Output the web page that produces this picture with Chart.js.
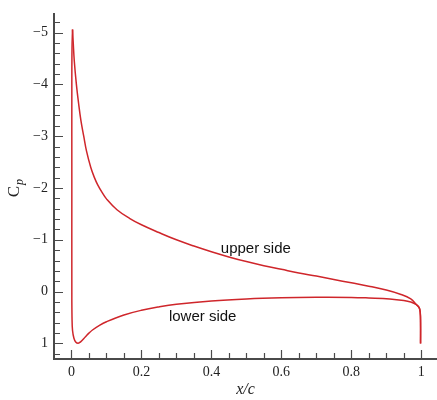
<!DOCTYPE html>
<html>
<head>
<meta charset="utf-8">
<script src="https://cdn.jsdelivr.net/npm/chart.js@4/dist/chart.umd.min.js"></script>
<style>
  html, body { margin: 0; padding: 0; background: #fff; }
</style>
</head>
<body>
<canvas id="cpChart" width="437" height="400"></canvas>
<script>
// pressure coefficient
var upperX  = [0.003, 0.005, 0.008, 0.014, 0.02, 0.027, 0.035, 0.043, 0.055, 0.065, 0.075, 0.087, 0.1, 0.13, 0.167, 0.2, 0.25, 0.3, 0.35, 0.4, 0.45, 0.5, 0.55, 0.6, 0.65, 0.7, 0.75, 0.8, 0.85, 0.9, 0.94, 0.97, 0.986, 0.994, 0.997, 0.998, 0.998];
var upperCp = [-5.06, -4.8, -4.45, -4.0, -3.65, -3.3, -3.0, -2.71, -2.4, -2.21, -2.06, -1.92, -1.79, -1.58, -1.41, -1.29, -1.14, -1.0, -0.88, -0.77, -0.67, -0.58, -0.5, -0.43, -0.36, -0.3, -0.235, -0.17, -0.105, -0.03, 0.05, 0.14, 0.25, 0.31, 0.4, 0.6, 1.0];

var lowerX  = [0.003, 0.0015, 0.001, 0.001, 0.001, 0.0015, 0.003, 0.007, 0.012, 0.019, 0.026, 0.04, 0.05, 0.06, 0.08, 0.1, 0.15, 0.2, 0.25, 0.3, 0.4, 0.5, 0.6, 0.7, 0.8, 0.85, 0.91, 0.95, 0.97, 0.986, 0.994, 0.997, 0.998, 0.998];
var lowerCp = [-5.06, -4.7, -4.0, -2.0, 0.0, 0.5, 0.75, 0.9, 0.97, 0.995, 0.97, 0.87, 0.8, 0.74, 0.65, 0.58, 0.45, 0.36, 0.295, 0.245, 0.18, 0.14, 0.118, 0.11, 0.112, 0.122, 0.14, 0.17, 0.2, 0.25, 0.31, 0.4, 0.6, 1.0];

var xTicks = [0, 0.2, 0.4, 0.6, 0.8, 1];
var yTicks = [-5, -4, -3, -2, -1, 0, 1];

var noteText = ["upper side", "lower side"];
var noteX    = [0.527, 0.375];
var noteCp   = [-0.82, 0.49];

var lineColor = "#cf262b";
var axisColor = "#4a4a4a";
var serif = "'Liberation Serif', 'Times New Roman', serif";

function pairs(xs, ys) {
    return xs.map(function(x, i) { return { x: x, y: ys[i] }; });
}

function fmt(v) {
    return String(v).replace("-", "\u2212");
}

// inward tick marks, axis titles and the two side labels
var decor = {
    id: "decor",
    afterDraw: function(chart) {
        var ctx = chart.ctx;
        var xs = chart.scales.x, ys = chart.scales.y;
        var area = chart.chartArea;
        var i, v, p, len;

        ctx.save();
        ctx.strokeStyle = axisColor;
        ctx.lineWidth = 1.2;
        ctx.beginPath();
        for (i = 0; i <= 20; i++) {
            v = i * 0.05;
            p = Math.round(xs.getPixelForValue(v)) + 0.5;
            len = (i % 4 === 0) ? 9 : 6;
            ctx.moveTo(p, area.bottom);
            ctx.lineTo(p, area.bottom - len);
        }
        for (i = -26; i <= 6; i++) {
            v = i * 0.2;
            p = Math.round(ys.getPixelForValue(v)) + 0.5;
            len = (i % 5 === 0) ? 9 : 6;
            ctx.moveTo(area.left, p);
            ctx.lineTo(area.left + len, p);
        }
        ctx.stroke();

        // x title
        ctx.fillStyle = "#222";
        ctx.font = "italic 16px " + serif;
        ctx.textAlign = "center";
        ctx.textBaseline = "middle";
        ctx.fillText("x/c", (area.left + area.right) / 2, 390);

        // y title: C with subscript p
        ctx.save();
        ctx.translate(14, (area.top + area.bottom) / 2 + 2);
        ctx.rotate(-Math.PI / 2);
        ctx.textAlign = "left";
        ctx.textBaseline = "alphabetic";
        ctx.font = "17px " + serif;
        var cw = ctx.measureText("C").width;
        ctx.fillText("C", -cw / 2 - 3, 5);
        ctx.font = "italic 12px " + serif;
        ctx.fillText("p", cw / 2 - 2, 9);
        ctx.restore();

        // side labels
        ctx.font = "15px 'Liberation Sans', Arial, sans-serif";
        ctx.fillStyle = "#111";
        ctx.textAlign = "center";
        for (i = 0; i < noteText.length; i++) {
            ctx.fillText(noteText[i], xs.getPixelForValue(noteX[i]), ys.getPixelForValue(noteCp[i]));
        }
        ctx.restore();
    }
};

var ctx = document.getElementById("cpChart").getContext("2d");

var lineStyle = {
    showLine: true,
    borderColor: lineColor,
    borderWidth: 1.5,
    pointRadius: 0,
    pointHoverRadius: 0,
    tension: 0.4
};

var chartConfig = {
    type: "scatter",
    data: {
        datasets: [
            Object.assign({ label: "upper side", data: pairs(upperX, upperCp) }, lineStyle),
            Object.assign({ label: "lower side", data: pairs(lowerX, lowerCp) }, lineStyle)
        ]
    },
    options: {
        responsive: false,
        animation: false,
        devicePixelRatio: 1,
        layout: { padding: { top: 7, right: 0, left: 0, bottom: 0 } },
        plugins: {
            legend: { display: false },
            tooltip: { enabled: false }
        },
        scales: {
            x: {
                type: "linear",
                min: -0.05,
                max: 1.045,
                grid: { display: true, drawOnChartArea: false, drawTicks: false },
                border: { display: true, color: axisColor, width: 2 },
                afterBuildTicks: function(scale) {
                    scale.ticks = xTicks.map(function(v) { return { value: v }; });
                },
                afterFit: function(scale) { scale.height = 41; },
                ticks: {
                    padding: 5,
                    color: "#222",
                    font: { family: serif, size: 14 },
                    maxRotation: 0,
                    callback: function(v) { return fmt(v); }
                }
            },
            y: {
                type: "linear",
                reverse: true,
                min: -5.35,
                max: 1.3,
                grid: { display: true, drawOnChartArea: false, drawTicks: false },
                border: { display: true, color: axisColor, width: 2 },
                afterBuildTicks: function(scale) {
                    scale.ticks = yTicks.map(function(v) { return { value: v }; });
                },
                afterFit: function(scale) { scale.width = 54; },
                ticks: {
                    padding: 6,
                    color: "#222",
                    font: { family: serif, size: 14 },
                    callback: function(v) { return fmt(v); }
                }
            }
        }
    },
    plugins: [decor]
};

var chart = new Chart(ctx, chartConfig);
</script>
</body>
</html>
